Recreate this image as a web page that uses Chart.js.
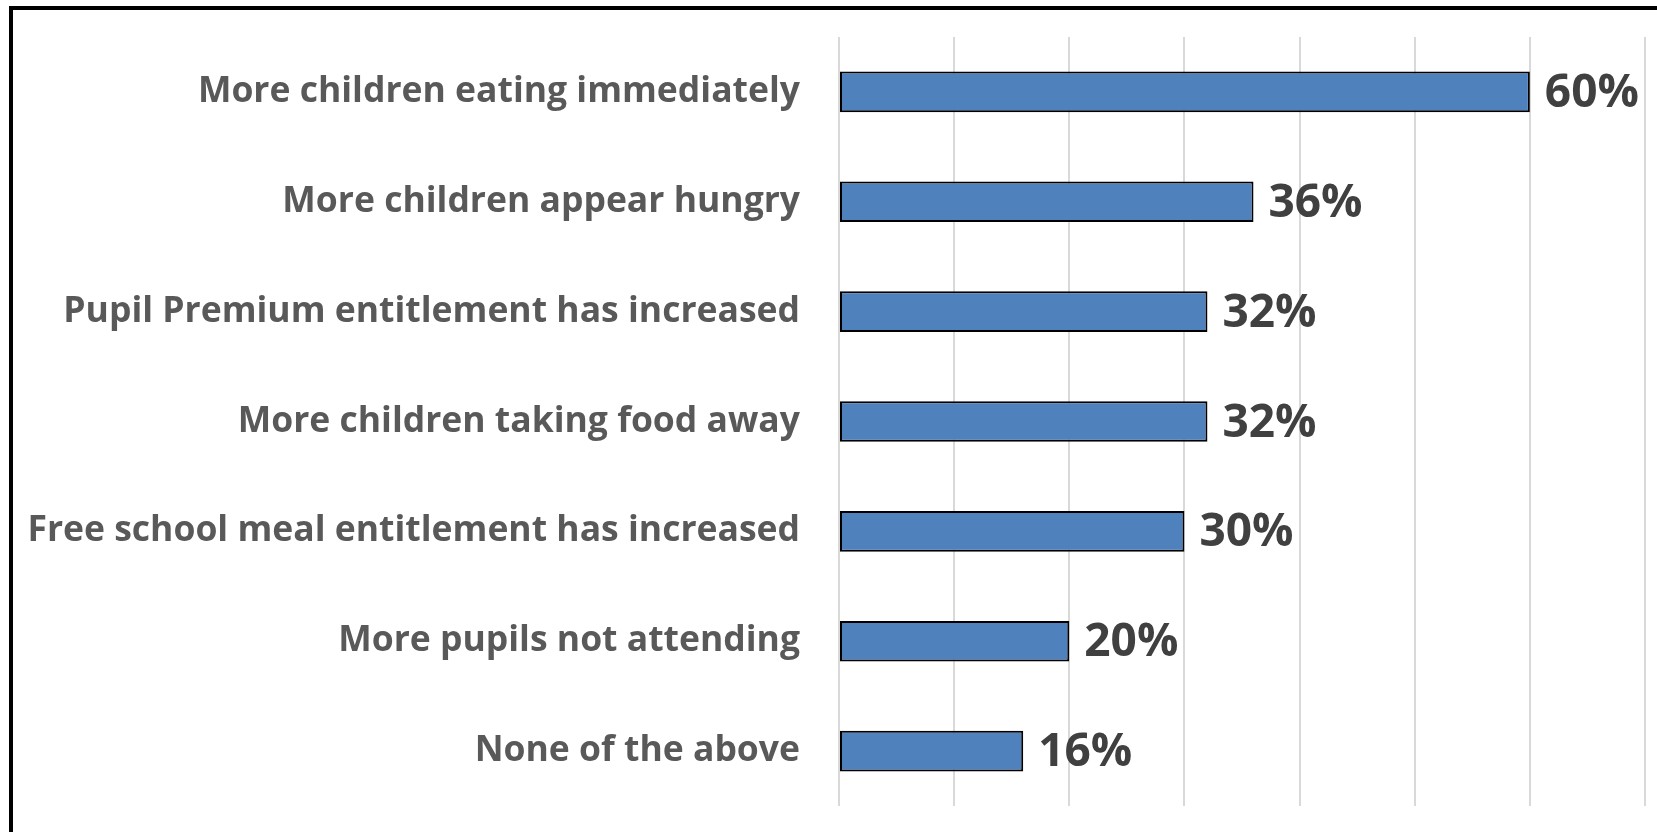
<!DOCTYPE html>
<html>
<head>
<meta charset="utf-8">
<script src="https://cdn.jsdelivr.net/npm/chart.js@4.4.1/dist/chart.umd.min.js"></script>
<style>
    html, body { margin: 0; padding: 0; background: #fff; overflow: hidden; }
    #wrap { position: relative; width: 1657px; height: 832px; }
    #frame {
        position: absolute; left: 9px; top: 6px; width: 2000px; height: 1000px;
        border-left: 4px solid #000; border-top: 4px solid #000; pointer-events: none;
    }
</style>
</head>
<body>
<div id="wrap">
    <canvas id="myChart" width="1657" height="832"></canvas>
    <div id="frame"></div>
</div>
<script>
// categorias y valores (%)
const categorias = [
    'More children eating immediately',
    'More children appear hungry',
    'Pupil Premium entitlement has increased',
    'More children taking food away',
    'Free school meal entitlement has increased',
    'More pupils not attending',
    'None of the above'
];
const porcentajes = [60, 36, 32, 32, 30, 20, 16];
const ejeMax = 70;
const ejePaso = 10;

// etiquetas de valor al final de cada barra
const etiquetasValor = {
    id: 'etiquetasValor',
    afterDatasetsDraw(chart) {
        const ctx = chart.ctx;
        const meta = chart.getDatasetMeta(0);
        ctx.save();
        ctx.font = 'bold 46px "Open Sans"';
        ctx.fillStyle = '#404040';
        ctx.textAlign = 'left';
        ctx.textBaseline = 'middle';
        meta.data.forEach((bar, i) => {
            ctx.fillText(porcentajes[i] + '%', bar.x + 15, bar.y + 2);
        });
        ctx.restore();
    }
};

document.addEventListener('DOMContentLoaded', () => {
    Chart.defaults.font.family = '"Open Sans"';
    const ctx = document.getElementById('myChart').getContext('2d');
    new Chart(ctx, {
        type: 'bar',
        data: {
            labels: categorias,
            datasets: [{
                data: porcentajes,
                backgroundColor: '#4F81BD',
                borderColor: '#000000',
                borderWidth: 2,
                borderSkipped: false,
                categoryPercentage: 1,
                barPercentage: 0.37
            }]
        },
        options: {
            indexAxis: 'y',
            responsive: false,
            animation: false,
            layout: { padding: { top: 37, right: 12, bottom: 26, left: 10 } },
            scales: {
                x: {
                    min: 0,
                    max: ejeMax,
                    ticks: { display: false, stepSize: ejePaso },
                    grid: { color: '#d9d9d9', lineWidth: 2, drawTicks: false },
                    border: { display: false },
                    afterFit: (scale) => { scale.height = 0; }
                },
                y: {
                    grid: { display: false, drawTicks: false },
                    border: { display: false },
                    ticks: {
                        color: '#595959',
                        padding: 39,
                        font: { size: 35.5, weight: 'bold' }
                    },
                    afterFit: (scale) => {
                        scale.width = 829;
                        scale.paddingTop = 0;
                        scale.paddingBottom = 0;
                    }
                }
            },
            plugins: {
                legend: { display: false },
                tooltip: { enabled: false }
            }
        },
        plugins: [etiquetasValor]
    });
});
</script>
</body>
</html>
